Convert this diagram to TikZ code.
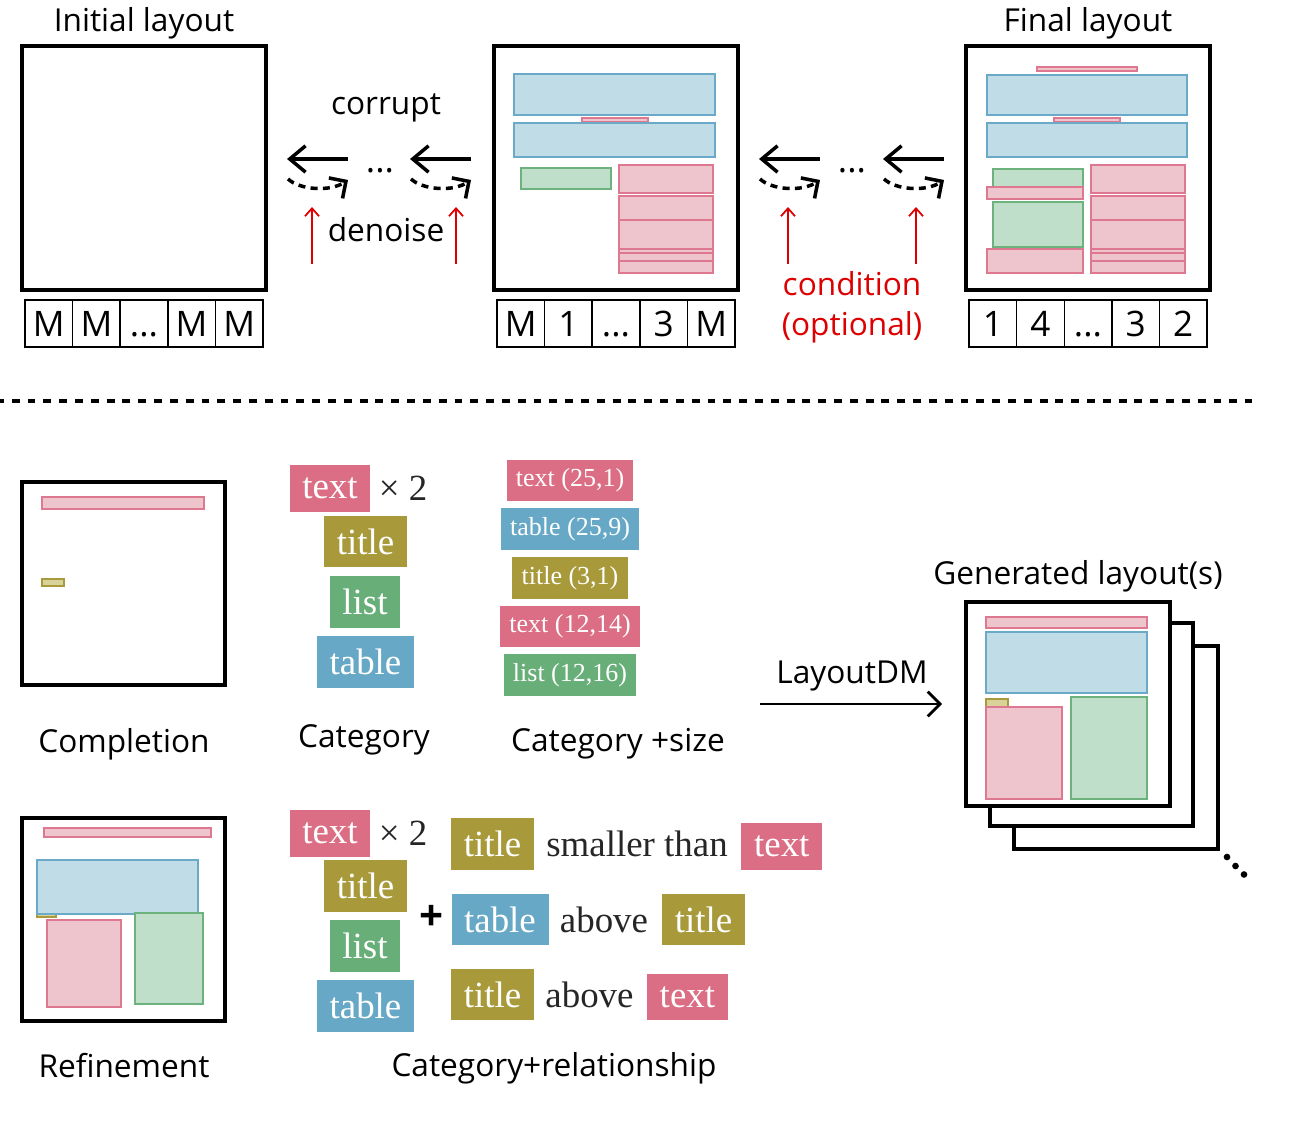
\documentclass[tikz,border=0pt]{standalone}
\usepackage{fontspec}
\setmainfont{Open Sans}
\newfontfamily\chipfont{Liberation Serif}
\usepackage{tikz}
\usetikzlibrary{arrows.meta,positioning,calc}

\definecolor{pinkline}{HTML}{DE7890}
\definecolor{pinkfill}{HTML}{EEC5CD}
\definecolor{blueline}{HTML}{6AAAC8}
\definecolor{bluefill}{HTML}{BFDCE7}
\definecolor{greenline}{HTML}{6DB27D}
\definecolor{greenfill}{HTML}{BFDFCB}
\definecolor{oliveline}{HTML}{A99B3C}
\definecolor{olivefill}{HTML}{D9D39A}
\definecolor{chippink}{HTML}{DB6E84}
\definecolor{chipolive}{HTML}{A89A3B}
\definecolor{chipgreen}{HTML}{68AE78}
\definecolor{chipblue}{HTML}{67A8C7}
\definecolor{condred}{HTML}{DD0000}
\newcommand\tokdots{...}

\begin{document}
\begin{tikzpicture}[x=0.02cm,y=-0.02cm,
  layoutframe/.style={line width=2pt},
  lbl/.style={font=\fontsize{18pt}{22.7pt}\selectfont},
  tok/.style={draw,line width=0.8pt,minimum width=0.952cm,minimum height=0.94cm,inner sep=0pt,text height=14.3pt,text depth=0pt,font=\fontsize{20pt}{22pt}\selectfont},
  elpink/.style={draw=pinkline,fill=pinkfill,line width=1.1pt},
  elblue/.style={draw=blueline,fill=bluefill,line width=1.1pt},
  elgreen/.style={draw=greenline,fill=greenfill,line width=1.1pt},
  elolive/.style={draw=oliveline,fill=olivefill,line width=1.1pt},
  chip/.style={inner xsep=7.2pt,inner ysep=7.3pt,text=white,anchor=south,font=\chipfont\fontsize{21pt}{23pt}\selectfont},
  schip/.style={inner xsep=5.3pt,inner ysep=5pt,text=white,font=\chipfont\fontsize{14.8pt}{16pt}\selectfont},
  rtext/.style={anchor=base,text=black!85,font=\chipfont\fontsize{21pt}{23pt}\selectfont},
  revarrow/.style={-{Straight Barb[length=9pt,width=15pt]},line width=2pt},
  dashrev/.style={-{Straight Barb[length=7pt,width=14pt]},line width=2pt,dash pattern=on 4pt off 3pt},
  redarrow/.style={-{Straight Barb[length=4.5pt,width=8pt]},line width=1pt,condred}]
\useasboundingbox (0,0) rectangle (1302,1132);

% top row: three layouts
\draw[layoutframe] (22,46) rectangle (266,290);
\draw[layoutframe] (494,46) rectangle (738,290);
\draw[layoutframe] (966,46) rectangle (1210,290);
\node[lbl] (init) at (144,23) {Initial layout};
\node[lbl] (final) at (1088,23) {Final layout};

\foreach \t [count=\i] in {M,M,\tokdots,M,M}
  \node[tok] (ta\i) at (25+47.6*\i-23.8,323.5) {\t};
\foreach \t [count=\i] in {M,1,\tokdots,3,M}
  \node[tok] (tb\i) at (497+47.6*\i-23.8,323.5) {\t};
\foreach \t [count=\i] in {1,4,\tokdots,3,2}
  \node[tok] (tc\i) at (969+47.6*\i-23.8,323.5) {\t};

% middle layout
\draw[elblue] (514,74) rectangle (715,115);
\draw[elpink] (582,118) rectangle (648,122);
\draw[elblue] (514,123) rectangle (715,157);
\draw[elgreen] (521,168) rectangle (611,189);
\draw[elpink] (619,165) rectangle (713,193);
\draw[elpink] (619,196) rectangle (713,220);
\draw[elpink] (619,220) rectangle (713,250);
\draw[elpink] (619,249) rectangle (713,253);
\draw[elpink] (619,253) rectangle (713,261);
\draw[elpink] (619,261) rectangle (713,273);

% final layout
\draw[elpink] (1037,67) rectangle (1137,71);
\draw[elblue] (987,75) rectangle (1187,115);
\draw[elpink] (1054,118) rectangle (1120,122);
\draw[elblue] (987,123) rectangle (1187,157);
\draw[elgreen] (993,169) rectangle (1083,189);
\draw[elpink] (987,187) rectangle (1083,199);
\draw[elgreen] (993,202) rectangle (1083,247);
\draw[elpink] (987,249) rectangle (1083,273);
\draw[elpink] (1091,165) rectangle (1185,193);
\draw[elpink] (1091,196) rectangle (1185,220);
\draw[elpink] (1091,220) rectangle (1185,250);
\draw[elpink] (1091,249) rectangle (1185,253);
\draw[elpink] (1091,253) rectangle (1185,261);
\draw[elpink] (1091,261) rectangle (1185,273);

% reverse steps
\foreach \x/\n in {287/a,410/b,759/c,883/d} {
  \coordinate (s\n) at (\x+61,159);
  \coordinate (e\n) at (\x,159);
  \coordinate (ds\n) at (\x+1,179);
  \coordinate (de\n) at (\x+61,180);
  \draw[revarrow] (s\n) -- (e\n);
  \draw[dashrev] (ds\n) .. controls (\x+13,190) and (\x+43,192) .. (de\n);
}
\foreach \x/\n in {380/l,852/r}
  \node[anchor=base,font=\fontsize{20pt}{20pt}\selectfont] (dots\n) at (\x,173) {\tokdots};
\node[lbl] (corrupt) at (386,108) {corrupt};
\node[lbl] (denoise) at (386,230) {denoise};
\node[lbl,condred,align=center] (cond) at (852,307) {condition\\(optional)};
\foreach \x/\n in {312/a,456/b,788/c,916/d} {
  \coordinate (rs\n) at (\x,264);
  \coordinate (re\n) at (\x,207);
  \draw[redarrow] (rs\n) -- (re\n);
}

% separator
\coordinate (sepl) at (0,401);
\coordinate (sepr) at (1252,401);
\draw[line width=2pt,dash pattern=on 4.5pt off 4.5pt,dash phase=2.3pt] (sepl) -- (sepr);

% completion
\draw[layoutframe] (22,482) rectangle (225,685);
\draw[elpink] (42,497) rectangle (204,509);
\draw[elolive] (42,579) rectangle (64,586);
\node[lbl] (compl) at (124,744) {Completion};

% refinement
\draw[layoutframe] (22,818) rectangle (225,1021);
\draw[elpink] (44,828) rectangle (211,837);
\draw[elolive] (37,912) rectangle (56,917);
\draw[elblue] (37,860) rectangle (198,914);
\draw[elpink] (47,920) rectangle (121,1007);
\draw[elgreen] (135,913) rectangle (203,1004);
\node[lbl] (refine) at (124,1066) {Refinement};

% category
\node[chip,fill=chippink] (ca1) at (330,512) {text};
\node[rtext,anchor=center] (ca0) at (403,488) {× 2};
\node[chip,fill=chipolive] (ca2) at (365.5,567.7) {title};
\node[chip,fill=chipgreen] (ca3) at (365,628) {list};
\node[chip,fill=chipblue] (ca4) at (365.5,688) {table};
\node[lbl] (cat) at (364,740) {Category};

% category + size
\node[schip,fill=chippink] (cs1) at (570,480.5) {text (25,1)};
\node[schip,fill=chipblue] (cs2) at (570,529) {table (25,9)};
\node[schip,fill=chipolive] (cs3) at (570,578) {title (3,1)};
\node[schip,fill=chippink] (cs4) at (570,626.5) {text (12,14)};
\node[schip,fill=chipgreen] (cs5) at (570,675) {list (12,16)};
\node[lbl] (catsize) at (618,744) {Category +size};

% category + relationship
\node[chip,fill=chippink] (cr1) at (330,857) {text};
\node[rtext,anchor=center] (cr0) at (403,833) {× 2};
\node[chip,fill=chipolive] (cr2) at (365.5,912) {title};
\node[chip,fill=chipgreen] (cr3) at (365,972) {list};
\node[chip,fill=chipblue] (cr4) at (365.5,1032) {table};
\node[font=\fontsize{24pt}{24pt}\selectfont\bfseries] (plus) at (432,918) {+};
\node[chip,fill=chipolive] (r1a) at (492.5,870) {title};
\node[rtext] (r1b) at (637,0 |- r1a.base) {smaller than};
\node[chip,fill=chippink] (r1c) at (781.8,870) {text};
\node[chip,fill=chipblue] (r2a) at (500,945.7) {table};
\node[rtext] (r2b) at (604,0 |- r2a.base) {above};
\node[chip,fill=chipolive] (r2c) at (703.5,945.7) {title};
\node[chip,fill=chipolive] (r3a) at (492.5,1020.7) {title};
\node[rtext] (r3b) at (589.5,0 |- r3a.base) {above};
\node[chip,fill=chippink] (r3c) at (687.4,1020.7) {text};
\node[lbl] (catrel) at (554,1068) {Category+relationship};

% model
\coordinate (dms) at (760,704);
\coordinate (dme) at (942,704);
\draw[-{Straight Barb[length=7pt,width=14pt]},line width=1.6pt] (dms) -- (dme);
\node[lbl] (dm) at (852,676) {LayoutDM};

% generated layouts
\draw[layoutframe,fill=white] (1014,646) rectangle (1218,849);
\draw[layoutframe,fill=white] (990,623) rectangle (1193,826);
\draw[layoutframe,fill=white] (966,602) rectangle (1170,806);
\draw[elpink] (986,617) rectangle (1147,628);
\draw[elblue] (986,632) rectangle (1147,693);
\draw[elolive] (986,699) rectangle (1008,707);
\draw[elpink] (986,707) rectangle (1062,799);
\draw[elgreen] (1071,697) rectangle (1147,799);
\fill (1227,857) circle (1.9pt) (1235.5,866) circle (1.9pt) (1244,874.5) circle (1.9pt);
\node[lbl] (gen) at (1078,576) {Generated layout(s)};
\end{tikzpicture}
\end{document}
